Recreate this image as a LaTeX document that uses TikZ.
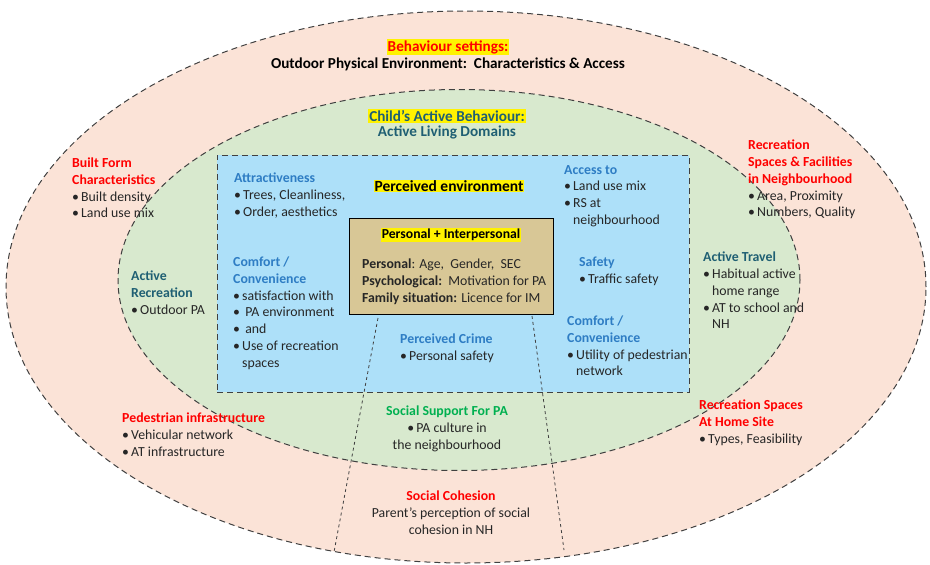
\documentclass[tikz,border=0pt]{standalone}
\usepackage{fontspec}
\setmainfont{Carlito}
\usetikzlibrary{shapes.geometric, positioning}

\definecolor{peach}{HTML}{FBE3D7}
\definecolor{greenfill}{HTML}{D8E9CE}
\definecolor{bluefill}{HTML}{ADE0F9}
\definecolor{tan}{HTML}{D8C796}
\definecolor{redtext}{HTML}{FF0000}
\definecolor{tealtext}{HTML}{1F5F73}
\definecolor{bluehead}{HTML}{2E7DC4}
\definecolor{greentext}{HTML}{00B050}
\definecolor{darktext}{HTML}{262626}

% heading in colour, bullet item, continued item
\newcommand{\hd}[2]{\textcolor{#1}{\textbf{#2}}}
\newcommand{\itm}[1]{\makebox[9pt][l]{\textbullet}#1}
\newcommand{\cont}[1]{\hspace*{9pt}#1}

\tikzset{
zone/.style={ellipse, draw=black!75, dash pattern=on 6pt off 4pt, line width=1pt}, % the two dashed rings
divider/.style={draw=black!75, dash pattern=on 3pt off 3pt, line width=0.8pt}, % lines cutting the rings
txt/.style={anchor=north west, inner sep=0pt, align=left, font=\fontsize{13.8}{16.7}\selectfont, text=darktext}, % text blocks
mid/.style={txt, anchor=north, align=center}, % centred text blocks
hl/.style={fill=yellow, inner sep=1pt, font=\fontsize{15.2}{17}\selectfont\bfseries}, % highlighted titles
}

\begin{document}
\begin{tikzpicture}[x=1pt, y=-1pt]
\useasboundingbox (0,0) rectangle (930,565);

% rings and boxes
\node[zone, fill=peach, minimum width=920pt, minimum height=552pt] (settings) at (466,287) {};
\node[zone, fill=greenfill, minimum width=682pt, minimum height=381pt] (domains) at (459,280) {};
\node[draw=black!75, dash pattern=on 6pt off 4pt, line width=1pt, fill=bluefill, inner sep=0pt,
      minimum width=472pt, minimum height=237pt] (perceived) at (453,273.5) {};
\node[draw=black, line width=0.8pt, fill=tan, inner sep=0pt,
      minimum width=204pt, minimum height=96pt] (personal) at (451,266) {};

\coordinate (cutLa) at (378,318);
\coordinate (cutLb) at (334,552);
\coordinate (cutRa) at (532,316);
\coordinate (cutRb) at (564,550);
\draw[divider] (cutLa) -- (cutLb);
\draw[divider] (cutRa) -- (cutRb);

% titles
\node[hl, text=redtext] (settingsTitle) at (448,47) {Behaviour settings:};
\node[font=\fontsize{15.2}{17}\selectfont\bfseries, inner sep=0pt, below=3pt of settingsTitle] (settingsSub)
  {Outdoor Physical Environment:\ \ Characteristics \& Access};
\node[hl, text=tealtext] (behaviourTitle) at (447,116) {Child's Active Behaviour:};
\node[font=\fontsize{15.2}{17}\selectfont\bfseries, text=tealtext, inner sep=0pt, below=3pt of behaviourTitle] (behaviourSub)
  {Active Living Domains};
\node[hl, font=\fontsize{15.5}{17}\selectfont\bfseries] (perceivedTitle) at (449,186) {Perceived environment};
\node[hl, font=\fontsize{13.7}{15}\selectfont\bfseries] (personalTitle) at (451,235) {Personal + Interpersonal};

% personal box
\node[txt] (personalText) at (362,259)
  {\textbf{Personal}: Age,\ \ Gender,\ \ SEC\\ \textbf{Psychological:}\ \ Motivation for PA\\ \textbf{Family situation:} Licence for IM};

% perceived environment
\node[txt] (attract) at (234,173)
  {\hd{bluehead}{Attractiveness}\\ \itm{Trees, Cleanliness,}\\ \itm{Order, aesthetics}};
\node[txt] (comfortL) at (233,257)
  {\hd{bluehead}{Comfort /}\\ \hd{bluehead}{Convenience}\\ \itm{satisfaction with}\\ \itm{\ PA environment}\\ \itm{\ and}\\ \itm{Use of recreation}\\ \cont{spaces}};
\node[txt] (crime) at (400,334)
  {\hd{bluehead}{Perceived Crime}\\ \itm{Personal safety}};
\node[txt] (access) at (564,165)
  {\hd{bluehead}{Access to}\\ \itm{Land use mix}\\ \itm{RS at}\\ \cont{neighbourhood}};
\node[txt] (safety) at (579,257)
  {\hd{bluehead}{Safety}\\ \itm{Traffic safety}};
\node[txt] (comfortR) at (567,316)
  {\hd{bluehead}{Comfort /}\\ \hd{bluehead}{Convenience}\\ \itm{Utility of pedestrian}\\ \cont{network}};

% active living domains
\node[txt] (activeRec) at (131,271)
  {\hd{tealtext}{Active}\\ \hd{tealtext}{Recreation}\\ \itm{Outdoor PA}};
\node[txt] (activeTravel) at (703,252)
  {\hd{tealtext}{Active Travel}\\ \itm{Habitual active}\\ \cont{home range}\\ \itm{AT to school and}\\ \cont{NH}};
\node[mid] (support) at (447,406)
  {\hd{greentext}{Social Support For PA}\\ \itm{PA culture in}\\ the neighbourhood};

% behaviour settings
\node[txt] (builtForm) at (72,158)
  {\hd{redtext}{Built Form}\\ \hd{redtext}{Characteristics}\\ \itm{Built density}\\ \itm{Land use mix}};
\node[txt] (recNeigh) at (748,140)
  {\hd{redtext}{Recreation}\\ \hd{redtext}{Spaces \& Facilities}\\ \hd{redtext}{in Neighbourhood}\\ \itm{Area, Proximity}\\ \itm{Numbers, Quality}};
\node[txt] (pedInfra) at (122,413)
  {\hd{redtext}{Pedestrian infrastructure}\\ \itm{Vehicular network}\\ \itm{AT infrastructure}};
\node[txt] (recHome) at (699,400)
  {\hd{redtext}{Recreation Spaces}\\ \hd{redtext}{At Home Site}\\ \itm{Types, Feasibility}};
\node[mid] (cohesion) at (451,491)
  {\hd{redtext}{Social Cohesion}\\ Parent's perception of social\\ cohesion in NH};
\end{tikzpicture}
\end{document}
